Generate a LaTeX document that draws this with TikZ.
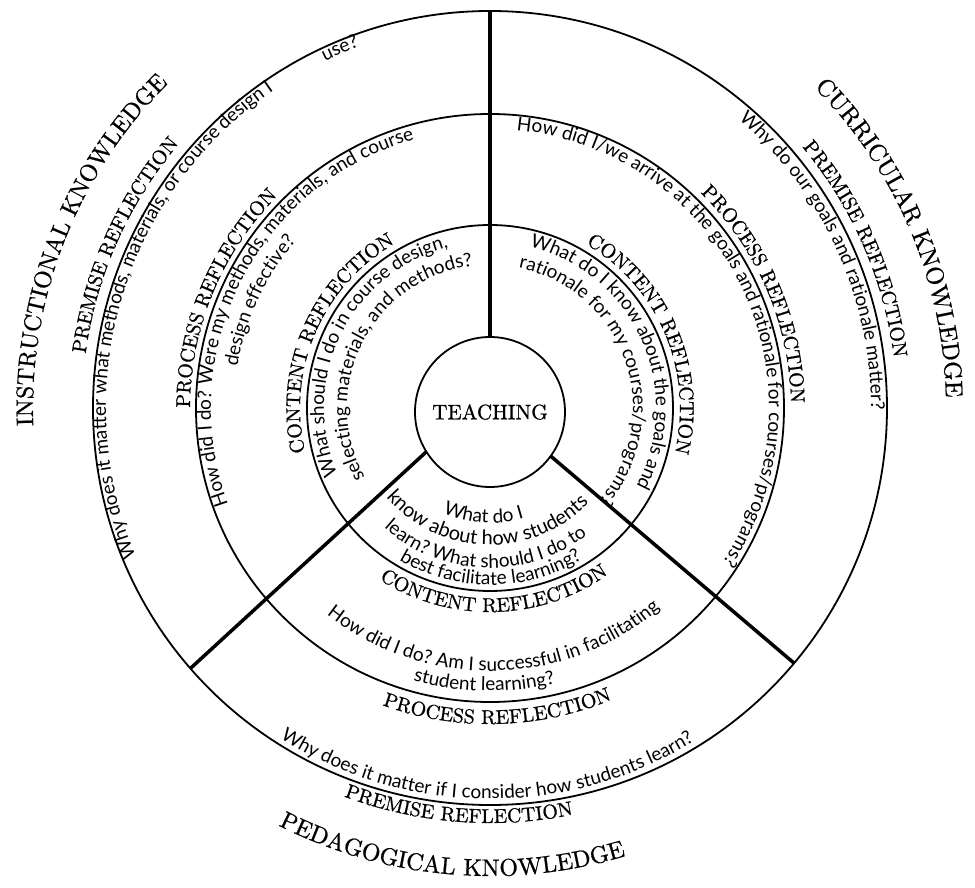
\documentclass[tikz,border=0pt]{standalone}
\usepackage{fontspec}
\newfontfamily\qf{Lato}
\newfontfamily\capf{lmroman10-regular.otf}[FakeBold=0.8]
\usetikzlibrary{decorations.text}
\newcommand\qsz[1]{\qf\fontsize{#1}{#1}\selectfont}
\newcommand\capsz[1]{\capf\fontsize{#1}{#1}\selectfont}
% clockwise text (upper half): #1 radius, #2 centre angle, #3 half span, #4 text
\newcommand\cwtext[4]{%
  \pgfmathsetmacro\myA{#2+#3}\pgfmathsetmacro\myB{#2-#3}%
  \path[decorate,decoration={text along path,text align=center,text={#4}}]
    (\myA:#1pt) arc[start angle=\myA,end angle=\myB,radius=#1pt];}
% counter-clockwise text (lower half)
\newcommand\ccwtext[4]{%
  \pgfmathsetmacro\myA{#2-#3}\pgfmathsetmacro\myB{#2+#3}%
  \path[decorate,decoration={text along path,text align=center,text={#4}}]
    (\myA:#1pt) arc[start angle=\myA,end angle=\myB,radius=#1pt];}
\begin{document}
\begin{tikzpicture}[x=1pt,y=1pt,
  ring/.style={draw,circle,line width=1.8pt,inner sep=0pt,outer sep=0pt},
  spoke/.style={line width=3.5pt}]
\useasboundingbox (-490,-480) rectangle (485,408);
\node[ring,minimum size=794pt] (outer) at (0,0) {};
\node[ring,minimum size=588pt] (middle) at (0,0) {};
\node[ring,minimum size=366pt] (inner) at (0,0) {};
\node[ring,minimum size=150pt,font=\capsz{21}] (T) at (0,-4) {TEACHING};
\draw[spoke] (outer.90) -- (T.90);
\draw[spoke] (T.212) -- (outer.221);
\draw[spoke] (T.324) -- (outer.320);
% ---------- instructional (top left)
\cwtext{457}{158.5}{40}{|\capsz{24}|INSTRUCTIONAL KNOWLEDGE}
\cwtext{408}{156}{30}{|\capsz{20}|PREMISE REFLECTION}
\cwtext{384}{163.5}{60}{|\qsz{19}|Why does it matter what methods, materials, or course design I}
\cwtext{384}{112.7}{10}{|\qsz{19}|use?}
\cwtext{300}{157.5}{35}{|\capsz{20}|PROCESS REFLECTION}
\cwtext{279}{153}{65}{|\qsz{19}|How did I do? Were my methods, materials, and course}
\cwtext{256}{155}{25}{|\qsz{19}|design effective?}
\cwtext{190}{156.7}{50}{|\capsz{20}|CONTENT REFLECTION}
\cwtext{166}{154}{75}{|\qsz{19}|What should I do in course design,}
\cwtext{143}{153}{80}{|\qsz{19}|selecting materials, and methods?}
% ---------- curricular (top right)
\cwtext{456}{23}{35}{|\capsz{24.5}|CURRICULAR KNOWLEDGE}
\cwtext{407}{23.5}{30}{|\capsz{20}|PREMISE REFLECTION}
\cwtext{381}{24.5}{40}{|\qsz{19}|Why do our goals and rationale matter?}
\cwtext{301}{23.3}{35}{|\capsz{20}|PROCESS REFLECTION}
\cwtext{279}{25.5}{80}{|\qsz{19}|How did I/we arrive at the goals and rationale for courses/programs?}
\cwtext{190}{23}{50}{|\capsz{20}|CONTENT REFLECTION}
\cwtext{166}{24}{75}{|\qsz{19}|What do I know about the goals and}
\cwtext{143}{19}{80}{|\qsz{19}|rationale for my courses/programs?}
% ---------- pedagogical (bottom)
\ccwtext{468}{265}{35}{|\capsz{24}|PEDAGOGICAL KNOWLEDGE}
\ccwtext{415}{265.5}{30}{|\capsz{20}|PREMISE REFLECTION}
\ccwtext{391}{269.5}{45}{|\qsz{19}|Why does it matter if I consider how students learn?}
\ccwtext{316}{271.4}{35}{|\capsz{20}|PROCESS REFLECTION}
\ccwtext{283}{268.8}{25}{|\qsz{19}|student learning?}
\ccwtext{263}{271}{60}{|\qsz{19}|How did I do? Am I successful in facilitating}
\ccwtext{204}{271.3}{50}{|\capsz{20}|CONTENT REFLECTION}
\ccwtext{177}{270.3}{50}{|\qsz{19}|best facilitate learning?}
\ccwtext{160}{268}{60}{|\qsz{19}|learn? What should I do to}
\ccwtext{137}{268.5}{70}{|\qsz{20}|know about how students}
\ccwtext{115}{266.6}{40}{|\qsz{19}|What do I}
\end{tikzpicture}
\end{document}
